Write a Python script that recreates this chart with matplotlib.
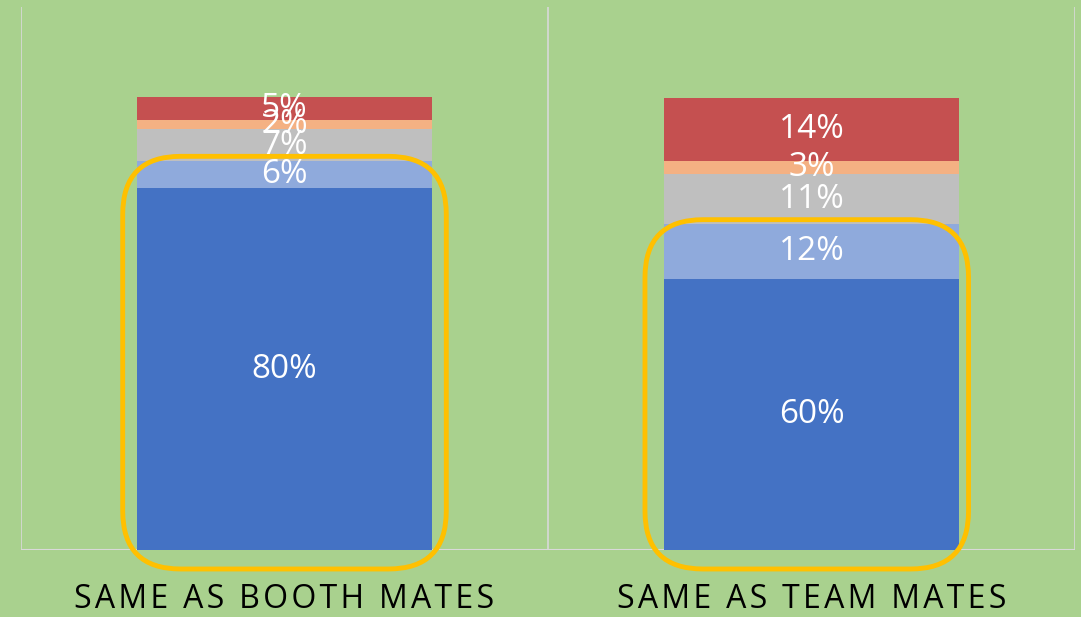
import matplotlib
matplotlib.use("Agg")
import matplotlib.pyplot as plt
from matplotlib.patches import FancyBboxPatch
import numpy as np

# data (percent shares, bottom to top)
categories = ["SAME AS BOOTH MATES", "SAME AS TEAM MATES"]
seg_dark_blue = [80, 60]
seg_light_blue = [6, 12]
seg_gray = [7, 11]
seg_orange = [2, 3]
seg_red = [5, 14]

series = [seg_dark_blue, seg_light_blue, seg_gray, seg_orange, seg_red]
colors = ["#4472C4", "#8FAADC", "#BFBFBF", "#F4B183", "#C55050"]
bg = "#A9D18E"

plt.rcParams["font.family"] = ["Open Sans", "DejaVu Sans"]

W, H = 1081, 617
fig = plt.figure(figsize=(W / 100, H / 100), dpi=100, facecolor=bg)
ax = fig.add_axes([21 / W, (617 - 550) / H, (1075 - 21) / W, (550 - 7) / H])
ax.set_facecolor(bg)

x = np.arange(len(categories))
bar_w = 0.558
bottom = np.zeros(len(categories))
for vals, col in zip(series, colors):
    v = np.array(vals) / 100
    ax.bar(x, v, bar_w, bottom=bottom, color=col, zorder=2)
    for xi, b, h, raw in zip(x, bottom, v, vals):
        ax.text(xi, b + h / 2, f"{raw}%", ha="center", va="center",
                color="white", fontsize=24, zorder=4)
    bottom = bottom + v

ax.set_xlim(-0.5, len(categories) - 0.5)
ax.set_ylim(0, 1.2)

# category separators
for xb in [-0.5, 0.5, 1.5]:
    ax.axvline(xb, color="#D9D9D9", lw=1.2, zorder=1)
ax.axhline(0, color="#D9D9D9", lw=1.5, zorder=1)
for s in ax.spines.values():
    s.set_visible(False)
ax.set_xticks(x)
# wide letter spacing like the original
spaced = ["\u200a".join(c) for c in categories]
ax.set_xticklabels(spaced, fontsize=23)
ax.tick_params(axis="x", length=0, pad=24)
ax.set_yticks([])

# yellow hand-drawn-ish highlight around the two bottom segments
aspect = 527 / 452.5
top_hl = (np.array(seg_dark_blue) + np.array(seg_light_blue)) / 100
shift = [0.0, -0.009]
for xi, t, dx in zip(x, top_hl, shift):
    half = 0.307
    y0 = -0.042
    y1 = t + 0.01
    box = FancyBboxPatch((xi - half + dx, y0), 2 * half, y1 - y0,
                         boxstyle="round,pad=0,rounding_size=0.11",
                         mutation_aspect=aspect,
                         fill=False, ec="#FFC000", lw=3.5, zorder=3,
                         clip_on=False)
    ax.add_patch(box)

fig.savefig("out.png", dpi=100, facecolor=bg)
